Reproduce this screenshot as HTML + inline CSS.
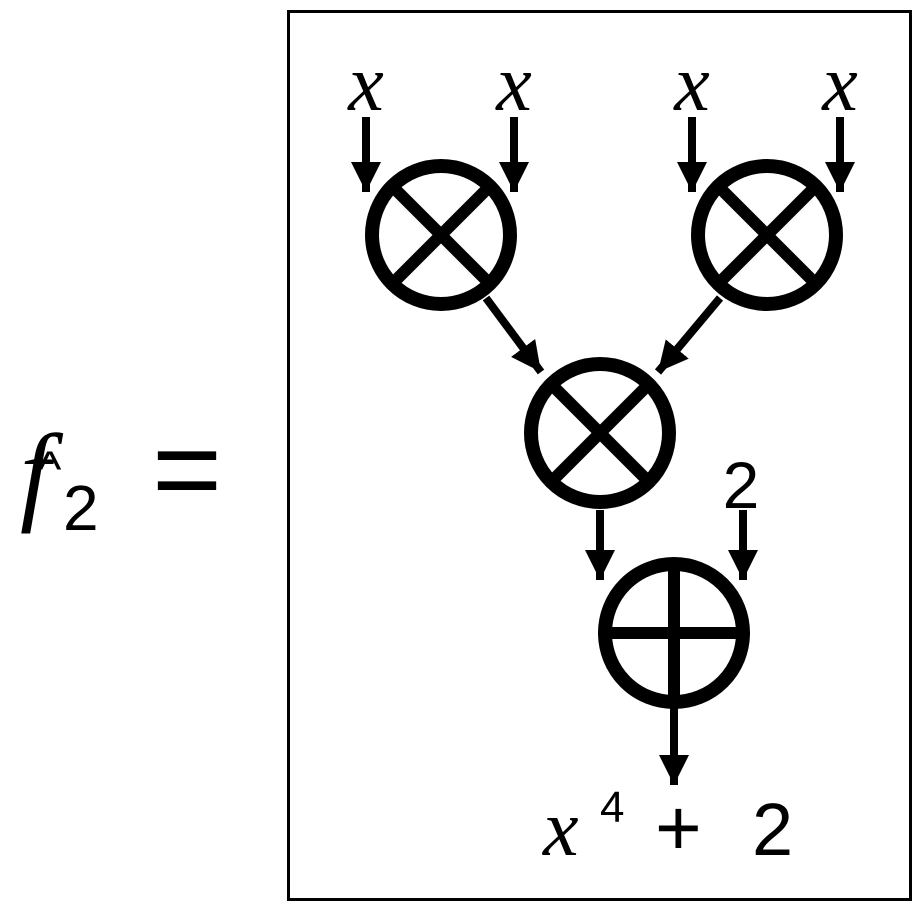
<!DOCTYPE html>
<html><head><style>body{margin:0;background:#fff}svg{display:block}</style></head><body>
<svg width="922" height="912" viewBox="0 0 922 912" xmlns="http://www.w3.org/2000/svg">
<defs>
<marker id="a" markerUnits="userSpaceOnUse" markerWidth="32" markerHeight="32" refX="30" refY="15" orient="auto"><path d="M0,0 L30,15 L0,30 Z" fill="#000"/></marker>
</defs>
<rect x="288.5" y="11.5" width="622" height="888" fill="none" stroke="#000" stroke-width="3"/>
<g fill="none" stroke="#000" stroke-width="14">
<circle cx="441" cy="235" r="69"/>
<circle cx="767" cy="235" r="69"/>
<circle cx="600" cy="433" r="69"/>
<circle cx="674" cy="633" r="69"/>
</g>
<g stroke="#000" stroke-width="12">
<line x1="397" y1="191" x2="485" y2="279"/><line x1="485" y1="191" x2="397" y2="279"/>
<line x1="723" y1="191" x2="811" y2="279"/><line x1="811" y1="191" x2="723" y2="279"/>
<line x1="556" y1="389" x2="644" y2="477"/><line x1="644" y1="389" x2="556" y2="477"/>
<line x1="674" y1="569" x2="674" y2="697"/><line x1="610" y1="633" x2="738" y2="633"/>
</g>
<g stroke="#000" stroke-width="8" marker-end="url(#a)">
<line x1="366" y1="117" x2="366" y2="192"/>
<line x1="514" y1="117" x2="514" y2="192"/>
<line x1="692" y1="117" x2="692" y2="192"/>
<line x1="840" y1="117" x2="840" y2="192"/>
<line x1="486" y1="298" x2="541" y2="372"/>
<line x1="720" y1="298" x2="658" y2="372"/>
<line x1="600" y1="510" x2="600" y2="580"/>
<line x1="743" y1="510" x2="743" y2="580"/>
<line x1="674" y1="705" x2="674" y2="785"/>
</g>
<g font-family="Liberation Serif, serif" font-style="italic" font-size="80" text-anchor="middle">
<text x="366" y="110">x</text><text x="514" y="110">x</text>
<text x="692" y="110">x</text><text x="840" y="110">x</text>
</g>
<text x="741" y="508" font-family="Liberation Sans, sans-serif" font-size="66" text-anchor="middle">2</text>
<text x="543" y="855" font-family="Liberation Serif, serif" font-style="italic" font-size="80">x</text>
<text x="600" y="822" font-family="Liberation Sans, sans-serif" font-size="44">4</text>
<text x="655" y="855" font-family="Liberation Sans, sans-serif" font-size="80">+</text>
<text x="752" y="855" font-family="Liberation Sans, sans-serif" font-size="74">2</text>
<text x="20" y="510" font-family="Liberation Serif, serif" font-style="italic" font-size="110">f</text>
<text x="38" y="486" font-family="Liberation Sans, sans-serif" font-size="50">^</text>
<text x="63" y="530" font-family="Liberation Sans, sans-serif" font-size="64">2</text>
<text x="152" y="510" font-family="Liberation Sans, sans-serif" font-size="120">=</text>
</svg>
</body></html>
